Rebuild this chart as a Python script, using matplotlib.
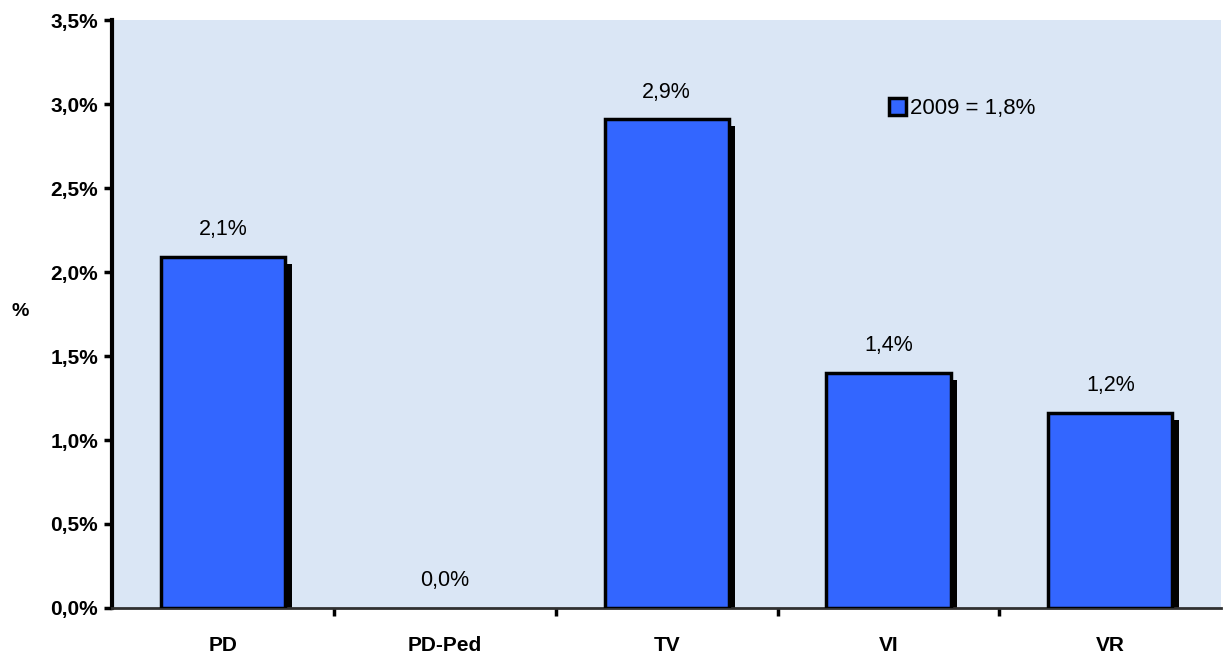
import matplotlib.pyplot as plt
from matplotlib.patches import Patch

categories = ["PD", "PD-Ped", "TV", "VI", "VR"]
values = [2.09, 0.0, 2.91, 1.40, 1.16]
value_labels = ["2,1%", "0,0%", "2,9%", "1,4%", "1,2%"]
y_ticks = [0.0, 0.5, 1.0, 1.5, 2.0, 2.5, 3.0, 3.5]
y_tick_labels = ["0,0%", "0,5%", "1,0%", "1,5%", "2,0%", "2,5%", "3,0%", "3,5%"]
legend_label = "2009 = 1,8%"

plt.rcParams['font.family'] = ['Liberation Sans', 'DejaVu Sans']

fig = plt.figure(figsize=(12.23, 6.53), dpi=100)
ax = fig.add_axes([0.0916, 0.069, 0.907, 0.900])
ax.set_facecolor('#dae6f5')

x = list(range(len(categories)))
bar_w = 0.56

# shadow behind each bar
for i, v in enumerate(values):
    if v > 0:
        ax.bar(i + 0.03, v - 0.04, width=bar_w, color='black', zorder=2)

for i, v in enumerate(values):
    if v > 0:
        ax.bar(i, v, width=bar_w, color='#3366ff', edgecolor='black',
               linewidth=2.5, zorder=3)

for i, (v, lab) in enumerate(zip(values, value_labels)):
    ax.text(i, v + 0.1, lab, ha='center', va='bottom', fontsize=15.5, zorder=4)

ax.set_xlim(-0.5, len(categories) - 0.5)
ax.set_ylim(0, 3.5)
ax.set_yticks(y_ticks)
ax.set_yticklabels(y_tick_labels, fontsize=15, fontweight='bold')
ax.set_xticks([i + 0.5 for i in range(len(categories) - 1)])
ax.set_xticklabels([])
ax.set_xticks(x, minor=True)
ax.set_xticklabels(categories, minor=True, fontsize=15, fontweight='bold')
ax.tick_params(axis='x', which='minor', length=0, pad=20)
ax.tick_params(axis='x', which='major', length=6, width=2.5, direction='out')
ax.tick_params(axis='y', length=6, width=2.5, direction='out', pad=4)

ax.spines['top'].set_visible(False)
ax.spines['right'].set_visible(False)
ax.spines['left'].set_linewidth(3)
ax.spines['bottom'].set_linewidth(2)
ax.spines['bottom'].set_color('#303030')

ax.set_ylabel('%', rotation=0, fontsize=14, fontweight='bold')
ax.yaxis.set_label_coords(-0.083, 0.49)

handles = [Patch(facecolor='#3366ff', edgecolor='black', linewidth=2.5)]
ax.legend(handles, [legend_label], loc='center left', bbox_to_anchor=(0.69, 0.85),
          frameon=False, fontsize=16, handlelength=0.8, handleheight=0.8,
          handletextpad=0.15, borderpad=0)

fig.savefig('out.png', dpi=100)
